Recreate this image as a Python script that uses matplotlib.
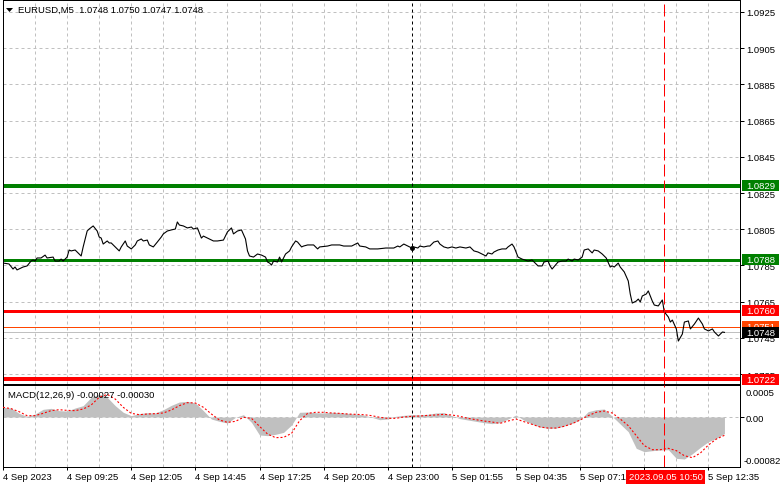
import matplotlib
matplotlib.use("Agg")
import matplotlib.pyplot as plt
import matplotlib.transforms as mtransforms
from matplotlib.patches import Rectangle, Polygon

# ---------------- data ----------------
title_text = "EURUSD,M5  1.0748 1.0750 1.0747 1.0748"
macd_text = "MACD(12,26,9) -0.00027 -0.00030"

# bar index (M5 bars) and close price of the line chart
price_bar = [
    0, 3, 5, 6, 7, 9, 10, 12, 14, 15,
    16, 17, 19, 21, 22, 25, 26, 28, 29, 30,
    32, 33, 34, 36, 37, 39, 40, 42, 43, 45,
    47, 48, 49, 50, 52, 53, 54, 56, 58, 59,
    61, 62, 64, 66, 67, 69, 70, 72, 73, 75,
    77, 79, 80, 82, 84, 86, 87, 88, 90, 92,
    94, 95, 97, 99, 100, 102, 105, 107, 110, 112,
    114, 115, 117, 119, 121, 122, 123, 125, 127, 129,
    131, 132, 133, 134, 135, 137, 138, 139, 141, 143,
    144, 146, 147, 149, 150, 152, 155, 157, 158, 162,
    164, 168, 170, 174, 177, 178, 181, 183, 187, 191,
    195, 197, 198, 200, 202, 204, 205, 207, 208, 210,
    212, 213, 215, 217, 218, 220, 222, 224, 226, 228,
    231, 233, 235, 237, 240, 241, 242, 244, 245, 247,
    249, 251, 252, 254, 255, 257, 259, 262, 264, 265,
    267, 269, 270, 272, 273, 274, 277, 279, 281, 282,
    284, 285, 287, 289, 290, 292, 294, 295, 297, 299,
    301, 303, 304, 305, 307, 308, 310, 312, 313, 314,
    316, 317, 318, 319, 321, 322, 324, 325, 327, 328,
    329, 330, 332, 333, 334, 336, 337, 339, 340, 342,
    343, 345, 347, 349, 350, 352, 354, 355, 357, 359,
    360]
price_close = [
    1.07863, 1.07858, 1.07830, 1.07841, 1.07825, 1.07836, 1.07841, 1.07847, 1.07874, 1.07880,
    1.07874, 1.07891, 1.07891, 1.07907, 1.07891, 1.07896, 1.07874, 1.07874, 1.07885, 1.07874,
    1.07896, 1.07935, 1.07930, 1.07935, 1.07924, 1.07902, 1.07952, 1.08040, 1.08051, 1.08068,
    1.08040, 1.08007, 1.08001, 1.07968, 1.07985, 1.07974, 1.07974, 1.07952, 1.07930, 1.07952,
    1.07985, 1.07957, 1.07941, 1.07963, 1.07985, 1.07996, 1.07985, 1.07990, 1.07963, 1.07952,
    1.07979, 1.08007, 1.08024, 1.08040, 1.08046, 1.08051, 1.08090, 1.08073, 1.08068, 1.08057,
    1.08062, 1.08051, 1.08057, 1.08001, 1.08012, 1.08001, 1.07985, 1.07985, 1.07990, 1.08035,
    1.08057, 1.08024, 1.08040, 1.08046, 1.07996, 1.07930, 1.07902, 1.07896, 1.07913, 1.07907,
    1.07896, 1.07869, 1.07863, 1.07852, 1.07874, 1.07869, 1.07896, 1.07869, 1.07913, 1.07930,
    1.07952, 1.07985, 1.07979, 1.07952, 1.07957, 1.07963, 1.07963, 1.07941, 1.07952, 1.07957,
    1.07963, 1.07963, 1.07957, 1.07957, 1.07974, 1.07957, 1.07952, 1.07941, 1.07941, 1.07946,
    1.07946, 1.07957, 1.07952, 1.07968, 1.07957, 1.07946, 1.07952, 1.07946, 1.07957, 1.07952,
    1.07957, 1.07957, 1.07979, 1.07985, 1.07968, 1.07952, 1.07946, 1.07952, 1.07946, 1.07952,
    1.07946, 1.07952, 1.07930, 1.07924, 1.07907, 1.07902, 1.07919, 1.07913, 1.07924, 1.07935,
    1.07941, 1.07941, 1.07952, 1.07968, 1.07952, 1.07896, 1.07885, 1.07874, 1.07880, 1.07869,
    1.07847, 1.07847, 1.07869, 1.07874, 1.07847, 1.07830, 1.07869, 1.07874, 1.07874, 1.07885,
    1.07874, 1.07885, 1.07880, 1.07896, 1.07935, 1.07941, 1.07919, 1.07935, 1.07930, 1.07913,
    1.07891, 1.07841, 1.07847, 1.07841, 1.07863, 1.07841, 1.07814, 1.07764, 1.07692, 1.07642,
    1.07653, 1.07664, 1.07648, 1.07681, 1.07692, 1.07709, 1.07653, 1.07631, 1.07626, 1.07642,
    1.07659, 1.07593, 1.07565, 1.07537, 1.07548, 1.07499, 1.07432, 1.07471, 1.07537, 1.07543,
    1.07499, 1.07526, 1.07559, 1.07526, 1.07499, 1.07488, 1.07499, 1.07482, 1.07460, 1.07482,
    1.07480]

# MACD (12,26,9): main histogram and signal, sampled every 4 bars
macd_bar = list(range(0, 364, 4))
macd_hist = [
    0.000159, 0.000148, 0.000060, 0.000011, 0.000049, 0.000126, 0.000142, 0.000104, 0.000098, 0.000148,
    0.000186, 0.000323, 0.000377, 0.000323, 0.000186, 0.000077, 0.000022, 0.000055, 0.000071, 0.000066,
    0.000120, 0.000191, 0.000246, 0.000257, 0.000230, 0.000104, -0.000033, -0.000071, -0.000098, -0.000005,
    0.000038, -0.000088, -0.000295, -0.000306, -0.000284, -0.000252, -0.000131, 0.000077, 0.000082, 0.000071,
    0.000066, 0.000077, 0.000071, 0.000060, 0.000049, 0.000033, -0.000005, -0.000044, -0.000033,
    0.000011, 0.000027, 0.000038, 0.000038, 0.000044, 0.000066, 0.000071, 0.000022, -0.000027, -0.000049,
    -0.000071, -0.000093, -0.000109, -0.000093, -0.000033, 0.000033, -0.000055, -0.000115, -0.000164, -0.000186,
    -0.000181, -0.000148, -0.000104, -0.000044, 0.000088, 0.000120, 0.000131, 0.000011, -0.000115, -0.000241,
    -0.000514, -0.000569, -0.000552, -0.000542, -0.000536, -0.000678, -0.000689, -0.000602, -0.000498, -0.000405,
    -0.000350, -0.000270]
macd_signal = [
    0.000159, 0.000137, 0.000088, 0.000022, 0.000022, 0.000060, 0.000104, 0.000120, 0.000109, 0.000104,
    0.000131, 0.000197, 0.000323, 0.000372, 0.000295, 0.000159, 0.000060, 0.000038, 0.000049, 0.000055,
    0.000066, 0.000115, 0.000186, 0.000235, 0.000230, 0.000159, 0.000049, -0.000049, -0.000088, -0.000071,
    -0.000005, -0.000022, -0.000153, -0.000279, -0.000339, -0.000334, -0.000268, -0.000060, 0.000060, 0.000077,
    0.000077, 0.000066, 0.000060, 0.000049, 0.000044, 0.000038, 0.000022, -0.000005, -0.000022,
    -0.000022, 0.000000, 0.000011, 0.000016, 0.000027, 0.000033, 0.000044, 0.000033, 0.000011, -0.000022,
    -0.000044, -0.000066, -0.000082, -0.000104, -0.000066, -0.000033, -0.000077, -0.000120, -0.000164, -0.000181,
    -0.000181, -0.000153, -0.000109, -0.000049, 0.000022, 0.000077, 0.000098, 0.000066, -0.000033, -0.000142,
    -0.000306, -0.000470, -0.000536, -0.000536, -0.000514, -0.000552, -0.000635, -0.000667, -0.000591, -0.000459,
    -0.000361, -0.000300]

# horizontal levels drawn on the chart
level_values = [1.0829, 1.0788, 1.0760, 1.0722]
level_labels = ["1.0829", "1.0788", "1.0760", "1.0722"]
ask_level = 1.0751
bid_level = 1.0748

price_ticks = [1.0925, 1.0905, 1.0885, 1.0865, 1.0845, 1.0825, 1.0805, 1.0785, 1.0765, 1.0745, 1.0725]
price_tick_labels = ["1.0925", "1.0905", "1.0885", "1.0865", "1.0845", "1.0825", "1.0805", "1.0785",
                     "1.0765", "1.0745", "1.0725"]

time_ticks = [0, 32, 64, 96, 128, 160, 192, 224, 256, 288, 320, 352]
time_labels = ["4 Sep 2023", "4 Sep 09:25", "4 Sep 12:05", "4 Sep 14:45", "4 Sep 17:25",
               "4 Sep 20:05", "4 Sep 23:00", "5 Sep 01:55", "5 Sep 04:35", "5 Sep 07:15",
               "", "5 Sep 12:35"]
day_separator_bar = 204
cursor_bar = 330
cursor_label = "2023.09.05 10:50"
macd_max_label = "0.0005"
macd_zero_label = "0.00"
macd_min_label = "-0.00082"

# ---------------- styling / layout ----------------
W, H = 781, 489
plt.rcParams['font.family'] = ['Liberation Sans', 'DejaVu Sans']
plt.rcParams['lines.scale_dashes'] = False
FS = 6.8
PX = 0.72  # one pixel in points

fig = plt.figure(figsize=(W / 100, H / 100), dpi=100)
fig.patch.set_facecolor('white')
pix = mtransforms.Affine2D().scale(1.0 / W, -1.0 / H).translate(0, 1) + fig.transFigure


def fr(x0, y0, x1, y1):
    return [x0 / W, 1 - y1 / H, (x1 - x0) / W, (y1 - y0) / H]


L, R = 3, 740
ax = fig.add_axes(fr(L, 1, R, 385))
am = fig.add_axes(fr(L, 386, R, 468))

BPX = 2.004  # pixels per bar
xmax = (R - L) / BPX
PPU = 18100.0  # pixels per price unit
ytop = 1.0925 + (13 - 1) / PPU
ybot = 1.0925 - (385 - 13) / PPU

grid_kw = dict(color='#C0C0C0', lw=PX, ls=(0, (3 * PX, 3 * PX)), zorder=0.5)

for a in (ax, am):
    a.set_xlim(0, xmax)
    for b in range(16, int(xmax) + 1, 16):
        a.axvline(b, **grid_kw)
    for s in a.spines.values():
        s.set_linewidth(PX)
        s.set_color('black')
    a.set_facecolor('white')

for v in price_ticks:
    ax.axhline(v, **grid_kw)
am.axhline(0, **grid_kw)

# price line
ax.plot(price_bar, price_close, color='black', lw=0.8, zorder=3)

# levels
ax.axhline(level_values[0], color='#008000', lw=4 * PX, zorder=2)
ax.axhline(level_values[1], color='#008000', lw=3 * PX, zorder=2)
ax.axhline(level_values[2], color='#FF0000', lw=3 * PX, zorder=2)
ax.axhline(level_values[3], color='#FF0000', lw=4 * PX, zorder=2)
ax.axhline(ask_level, color='#FF4500', lw=PX, zorder=2)
ax.axhline(bid_level, color='#C0C0C0', lw=PX, zorder=2)

# vertical separators
for a in (ax, am):
    a.axvline(day_separator_bar, color='black', lw=PX, ls=(0, (3 * PX, 3 * PX)), zorder=4)
    a.axvline(cursor_bar, color='#FF0000', lw=PX, ls=(0, (12 * PX, 4 * PX)), zorder=4)
sep_idx = price_bar.index(day_separator_bar)
ax.plot([day_separator_bar], [price_close[sep_idx]], 'o', color='black', ms=2.5, zorder=5)

ax.set_ylim(ybot, ytop)
ax.yaxis.tick_right()
ax.set_yticks(price_ticks)
ax.set_yticklabels(price_tick_labels)
ax.tick_params(axis='y', length=4 * PX, width=PX, pad=2 * PX, labelsize=FS, direction='out')
ax.set_xticks([])

# MACD panel (histogram drawn as a filled area of the sampled bars)
am.fill_between(macd_bar, 0, macd_hist, color='#C0C0C0', linewidth=0, zorder=1)
am.plot(macd_bar, macd_signal, color='#FF0000', lw=0.8, ls=(0, (2 * PX, 2 * PX)), zorder=3)
am.set_ylim(-0.00082, 0.000525)
am.yaxis.tick_right()
am.set_yticks([0])
am.set_yticklabels([macd_zero_label])
am.tick_params(axis='y', length=4 * PX, width=PX, pad=2 * PX, labelsize=FS)
am.set_xticks(time_ticks)
am.set_xticklabels(time_labels, ha='left')
am.tick_params(axis='x', length=3 * PX, width=PX, pad=1.8, labelsize=FS)

fig.text(746, 394, macd_max_label, transform=pix, fontsize=FS, va='center', ha='left')
fig.text(744, 461, macd_min_label, transform=pix, fontsize=FS, va='center', ha='left')

# level labels on the price scale
bl = mtransforms.blended_transform_factory(fig.transFigure, ax.transData)
hh = 5.5 / PPU
box_specs = [
    (ask_level, "1.0751", '#FF4500', 'white'),
    (level_values[0], level_labels[0], '#008000', 'white'),
    (level_values[1], level_labels[1], '#008000', 'white'),
    (level_values[2], level_labels[2], '#FF0000', 'white'),
    (level_values[3], level_labels[3], '#FF0000', 'white'),
    (bid_level, "1.0748", 'black', 'white'),
]
z = 10
for v, s, fc, tc in box_specs:
    fig.add_artist(Rectangle((741.5 / W, v - hh), 37.5 / W, 2 * hh, transform=bl,
                             facecolor=fc, edgecolor='none', zorder=z))
    fig.text(746.5 / W, v, s, transform=bl, fontsize=FS, color=tc, va='center', ha='left',
             zorder=z + 0.5)
    z += 1

# cursor time label box
fig.add_artist(Rectangle((626, 471), 79, 14, transform=pix, facecolor='#FF0000',
                         edgecolor='none', zorder=20))
fig.text(665.5, 478, cursor_label, transform=pix, fontsize=FS, color='white',
         ha='center', va='center', zorder=21)

# titles
fig.add_artist(Polygon([(6, 9), (13, 9), (9.5, 13)], closed=True, transform=pix,
                       facecolor='black', edgecolor='none', zorder=5))
fig.text(18, 10, title_text, transform=pix, fontsize=FS, va='center', ha='left', zorder=5)
fig.text(8, 396, macd_text, transform=pix, fontsize=FS, va='center', ha='left', zorder=5)

fig.savefig('out.png', dpi=100, facecolor='white')
